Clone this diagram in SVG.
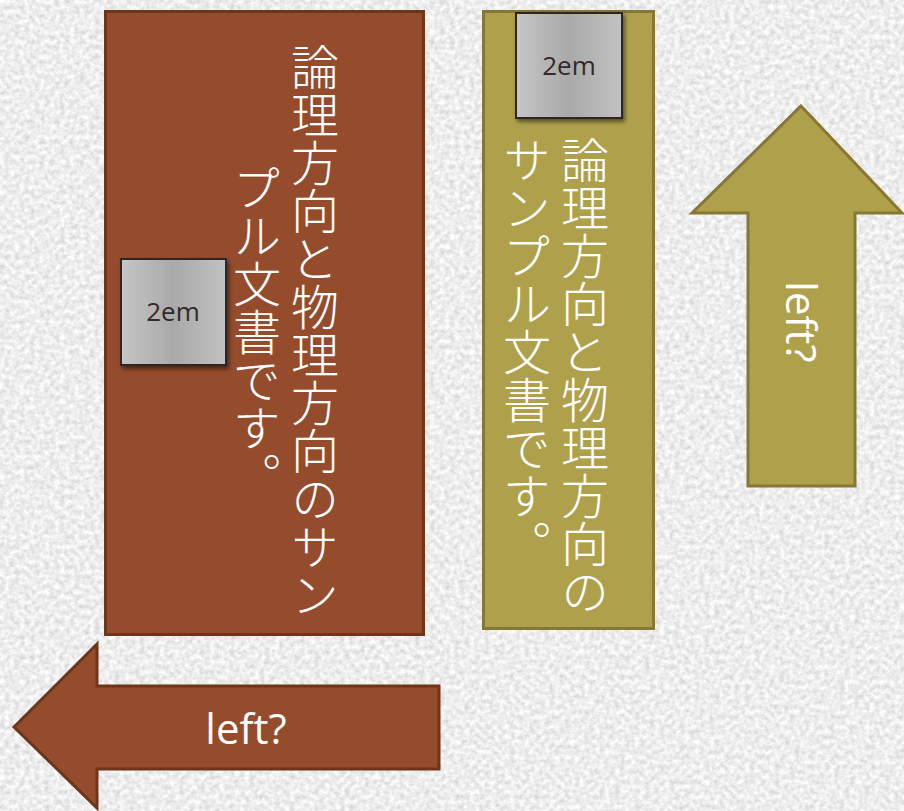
<svg xmlns="http://www.w3.org/2000/svg" width="904" height="811" viewBox="0 0 904 811">
<style>
.jp{font-family:"Noto Sans CJK JP",sans-serif;font-size:48px;font-weight:300;fill:#ffffff;writing-mode:vertical-rl;}
.lbl{font-family:"Open Sans","Noto Sans",sans-serif;font-size:42px;fill:#ffffff;}
.em{font-family:"Open Sans","Noto Sans",sans-serif;font-size:26px;fill:#33292a;text-anchor:middle;}
.brown{fill:#944c2c;stroke:#6e3519;stroke-width:3;}
.olive{fill:#afa14b;stroke:#857834;stroke-width:3;}
.sq{fill:url(#gray);stroke:#2e2626;stroke-width:2;filter:url(#shadow);}
</style>
<defs>
<filter id="tex" x="0" y="0" width="100%" height="100%">
<feTurbulence type="fractalNoise" baseFrequency="0.2" numOctaves="3" seed="5"/>
<feColorMatrix type="matrix" values="0.5 0 0 0 0.6  0.5 0 0 0 0.6  0.5 0 0 0 0.6  0 0 0 0 1"/>
</filter>
<linearGradient id="gray" x1="0" y1="0" x2="1" y2="0">
<stop offset="0" stop-color="#c6c6c6"/>
<stop offset="0.5" stop-color="#a9a9a9"/>
<stop offset="1" stop-color="#c2c2c2"/>
</linearGradient>
<filter id="shadow" x="-20%" y="-20%" width="150%" height="150%">
<feDropShadow dx="2" dy="3" stdDeviation="2" flood-color="#000" flood-opacity="0.5"/>
</filter>
</defs>
<rect x="0" y="0" width="904" height="811" fill="#d6d6d6"/>
<rect x="0" y="0" width="904" height="811" filter="url(#tex)"/>

<g id="brown-box">
<rect class="brown" x="105.5" y="11.5" width="318" height="623"/>
<text class="jp" x="315" y="43">論理方向と物理方向のサン</text>
<text class="jp" x="257" y="164">プル文書です。</text>
</g>
<g id="brown-2em">
<rect class="sq" x="121" y="259" width="105" height="106"/>
<text class="em" x="173" y="321">2em</text>
</g>

<g id="olive-box">
<rect class="olive" x="483.5" y="11.5" width="170" height="617"/>
<text class="jp" x="585" y="136">論理方向と物理方向の</text>
<text class="jp" x="527" y="136">サンプル文書です。</text>
</g>
<g id="olive-2em">
<rect class="sq" x="516" y="13" width="106" height="105"/>
<text class="em" x="569" y="75">2em</text>
</g>

<g id="up-arrow">
<polygon class="olive" points="801,106 902,213 855,213 855,486 748,486 748,213 692,213"/>
<text class="lbl" text-anchor="middle" transform="translate(786,322) rotate(90)">left?</text>
</g>

<g id="left-arrow">
<polygon class="brown" points="14,727 97,644 97,686 439,686 439,769 97,769 97,808"/>
<text class="lbl" text-anchor="middle" x="246" y="744">left?</text>
</g>
</svg>
